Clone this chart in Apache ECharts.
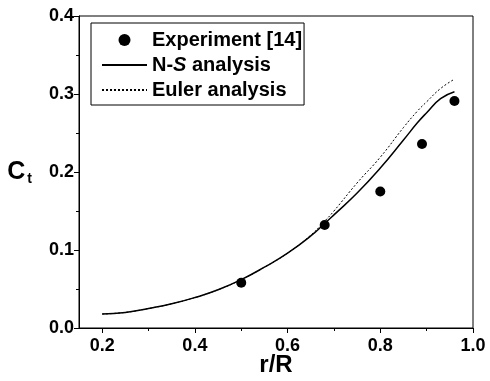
<!DOCTYPE html>
<html>
<head>
<meta charset="utf-8">
<script src="https://cdn.jsdelivr.net/npm/echarts@6/dist/echarts.min.js"></script>
<style>
html, body { margin: 0; padding: 0; background: #fff; }
#main { width: 490px; height: 381px; }
</style>
</head>
<body>
<div id="main"></div>
<script>
// experiment points
var expX = [0.50, 0.68, 0.80, 0.89, 0.96];
var expY = [0.058, 0.132, 0.175, 0.236, 0.291];

// computed curves
var curveX = [0.20, 0.25, 0.30, 0.35, 0.40, 0.45, 0.50, 0.55, 0.60, 0.65, 0.68, 0.70, 0.75, 0.80, 0.85, 0.88, 0.90, 0.93, 0.96];
var nsY    = [0.018, 0.020, 0.025, 0.031, 0.039, 0.049, 0.062, 0.078, 0.096, 0.118, 0.134, 0.145, 0.173, 0.205, 0.241, 0.263, 0.276, 0.294, 0.303];
var eulerY = [0.018, 0.020, 0.025, 0.031, 0.039, 0.049, 0.062, 0.078, 0.096, 0.119, 0.137, 0.150, 0.186, 0.219, 0.257, 0.278, 0.290, 0.307, 0.319];

var xMajor = [0.2, 0.4, 0.6, 0.8, 1.0];
var xMinor = [0.3, 0.5, 0.7, 0.9];

function pairs(xs, ys){
	var out = [];
	for(var i = 0; i < xs.length; i++){
		out.push([xs[i], ys[i]]);
	}
	return out;
}

var font = 'Liberation Sans, Arial, sans-serif';
var myChart = echarts.init(document.getElementById('main'));

var option = {
	animation: false,
	backgroundColor: '#fff',
	grid: {
		left: 79,
		right: 17,
		top: 16,
		bottom: 53,
		outerBoundsMode: 'none',
		containLabel: false,
		show: true,
		borderColor: '#000',
		borderWidth: 1
	},
	legend: {
		orient: 'vertical',
		left: 91,
		top: 23,
		padding: [7, 2, 5, 10],
		borderColor: '#000',
		borderWidth: 1,
		itemWidth: 45,
		itemHeight: 12,
		itemGap: 5,
		textStyle: {
			fontFamily: font,
			fontWeight: 'bold',
			fontSize: 20,
			color: '#000',
			lineHeight: 20,
			rich: {
				it: { fontFamily: font, fontWeight: 'bold', fontStyle: 'italic', fontSize: 20, color: '#000' },
				n: { fontFamily: font, fontWeight: 'bold', fontSize: 20, color: '#000' }
			}
		},
		formatter: function(name){
			if(name == 'N-S analysis'){
				return '{n|N-}{it|S}{n| analysis}';
			}
			return name;
		},
		data: [
			{ name: 'Experiment [14]', icon: 'circle', itemStyle: { color: '#000', opacity: 1 } },
			{ name: 'N-S analysis', itemStyle: { opacity: 0 } },
			{ name: 'Euler analysis', itemStyle: { opacity: 0 } }
		]
	},
	xAxis: [
		{
			type: 'value',
			min: 0.15,
			max: 1.0,
			splitLine: { show: false },
			axisLine: { show: true, lineStyle: { color: '#000', width: 1 } },
			axisTick: { show: true, length: 5, customValues: xMajor, lineStyle: { color: '#000' } },
			axisLabel: {
				customValues: xMajor,
				margin: 9,
				fontFamily: font,
				fontWeight: 'bold',
				fontSize: 18,
				color: '#000',
				formatter: function(v){ return v.toFixed(1); }
			},
			name: 'r/R',
			nameLocation: 'middle',
			nameGap: 25,
			nameMoveOverlap: false,
			nameTextStyle: { fontFamily: font, fontWeight: 'bold', fontSize: 24, color: '#000' }
		},
		{
			type: 'value',
			position: 'bottom',
			min: 0.15,
			max: 1.0,
			splitLine: { show: false },
			axisLine: { show: false },
			axisTick: { show: true, length: 3, customValues: xMinor, lineStyle: { color: '#000' } },
			axisLabel: { show: false }
		}
	],
	yAxis: {
		type: 'value',
		min: 0,
		max: 0.4,
		interval: 0.1,
		splitLine: { show: false },
		axisLine: { show: true, lineStyle: { color: '#000', width: 1 } },
		axisTick: { show: true, length: 5, lineStyle: { color: '#000' } },
		minorTick: { show: true, splitNumber: 2, length: 3, lineStyle: { color: '#000' } },
		axisLabel: {
			margin: 5,
			fontFamily: font,
			fontWeight: 'bold',
			fontSize: 18,
			color: '#000',
			formatter: function(v){ return v.toFixed(1); }
		},
		name: '{c|C}{t|t}',
		nameLocation: 'middle',
		nameRotate: 0,
		nameGap: 47,
		nameMoveOverlap: false,
		nameTextStyle: {
			rich: {
				c: { fontFamily: font, fontWeight: 'bold', fontSize: 25, color: '#000' },
				t: { fontFamily: font, fontWeight: 'bold', fontSize: 14, color: '#000', padding: [14, 0, 0, 2] }
			}
		}
	},
	series: [
		{
			name: 'Experiment [14]',
			type: 'scatter',
			symbol: 'circle',
			symbolSize: 10,
			itemStyle: { color: '#000', opacity: 1 },
			data: pairs(expX, expY)
		},
		{
			name: 'N-S analysis',
			type: 'line',
			smooth: true,
			symbol: 'none',
			lineStyle: { color: '#000', width: 1.5, type: 'solid' },
			itemStyle: { color: '#000' },
			data: pairs(curveX, nsY)
		},
		{
			name: 'Euler analysis',
			type: 'line',
			smooth: true,
			symbol: 'none',
			lineStyle: { color: '#000', width: 1, type: [2, 2] },
			itemStyle: { color: '#000' },
			data: pairs(curveX, eulerY)
		}
	]
};

myChart.setOption(option);
</script>
</body>
</html>
